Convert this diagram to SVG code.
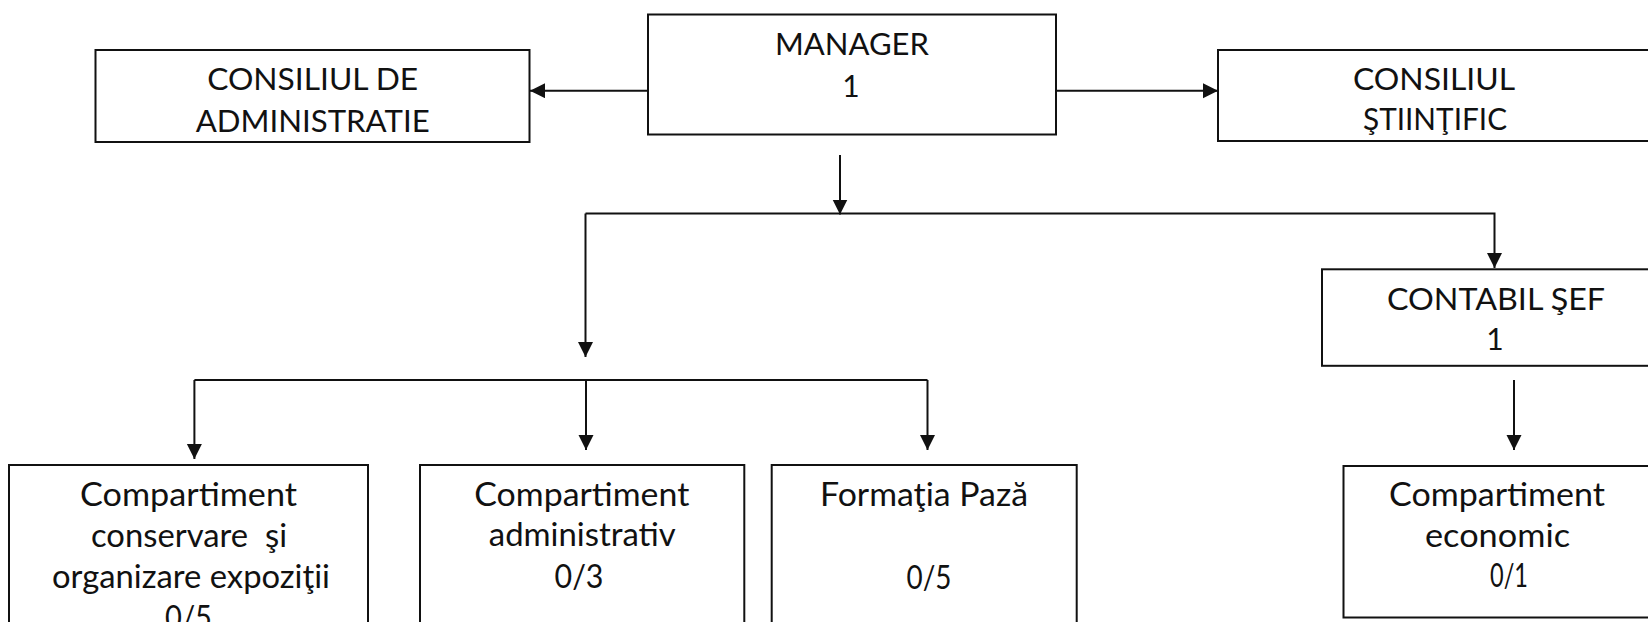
<svg xmlns="http://www.w3.org/2000/svg" width="1648" height="622" viewBox="0 0 1648 622">
<style>
.box{fill:#fff;stroke:#111;stroke-width:2}
.t{font-family:Lato,"Liberation Sans",sans-serif;font-weight:400;fill:#111;text-anchor:middle}
.up{font-size:30px}
.lo{font-size:32px}
.ln{fill:none;stroke:#111;stroke-width:2;marker-end:url(#ah)}
.ln0{fill:none;stroke:#111;stroke-width:2}
</style>
<defs>
<marker id="ah" markerUnits="userSpaceOnUse" markerWidth="16" markerHeight="16" refX="15" refY="7.5" orient="auto">
<path d="M0,0 L15,7.5 L0,15 Z" fill="#111"/>
</marker>
</defs>
<rect width="1648" height="622" fill="#fff"/>
<g id="connectors">
<path class="ln" d="M648,90.7 H530"/>
<path class="ln" d="M1056,90.7 H1218"/>
<path class="ln" d="M840,155 V214.5"/>
<path class="ln" d="M585.5,213.5 H1494.5 V268"/>
<path class="ln" d="M585.5,213.5 V357"/>
<path class="ln0" d="M194.4,380 H927.5"/>
<path class="ln" d="M194.4,380 V459"/>
<path class="ln" d="M586,380 V450"/>
<path class="ln" d="M927.5,380 V450"/>
<path class="ln" d="M1514,380 V450"/>
</g>
<g id="consiliul-admin">
<rect class="box" x="95.5" y="50" width="434" height="92"/>
<text class="t up" x="312.7" y="90" textLength="211" lengthAdjust="spacingAndGlyphs">CONSILIUL DE</text>
<text class="t up" x="312.7" y="131.5" textLength="234" lengthAdjust="spacingAndGlyphs">ADMINISTRATIE</text>
</g>
<g id="manager">
<rect class="box" x="648" y="14.5" width="408" height="120"/>
<text class="t up" x="852" y="55" textLength="154" lengthAdjust="spacingAndGlyphs">MANAGER</text>
<text class="t up" x="851" y="97">1</text>
</g>
<g id="consiliul-stiintific">
<rect class="box" x="1218" y="50" width="434" height="91"/>
<text class="t up" x="1434" y="90" textLength="162" lengthAdjust="spacingAndGlyphs">CONSILIUL</text>
<text class="t up" x="1435" y="130" textLength="144" lengthAdjust="spacingAndGlyphs">ŞTIINŢIFIC</text>
</g>
<g id="contabil-sef">
<rect class="box" x="1322" y="269.3" width="348" height="96.5"/>
<text class="t up" x="1496" y="310" textLength="218" lengthAdjust="spacingAndGlyphs">CONTABIL ŞEF</text>
<text class="t up" x="1495" y="350">1</text>
</g>
<g id="comp-conservare">
<rect class="box" x="9" y="465" width="359" height="180"/>
<text class="t lo" x="188.5" y="506" textLength="217" lengthAdjust="spacingAndGlyphs">Compartiment</text>
<text class="t lo" x="189" y="546.5" xml:space="preserve" textLength="196" lengthAdjust="spacingAndGlyphs">conservare  şi</text>
<text class="t lo" x="191" y="587.5" textLength="278" lengthAdjust="spacingAndGlyphs">organizare expoziţii</text>
<text class="t lo" x="188.5" y="629" textLength="47" lengthAdjust="spacingAndGlyphs">0/5</text>
</g>
<g id="comp-administrativ">
<rect class="box" x="420" y="465" width="324.3" height="180"/>
<text class="t lo" x="581.8" y="506" textLength="215" lengthAdjust="spacingAndGlyphs">Compartiment</text>
<text class="t lo" x="582.3" y="546" textLength="187" lengthAdjust="spacingAndGlyphs">administrativ</text>
<text class="t lo" x="579" y="588.3" textLength="49" lengthAdjust="spacingAndGlyphs">0/3</text>
</g>
<g id="formatia-paza">
<rect class="box" x="771.7" y="465" width="305" height="180"/>
<text class="t lo" x="924" y="506" textLength="208" lengthAdjust="spacingAndGlyphs">Formaţia Pază</text>
<text class="t lo" x="929" y="589" textLength="45" lengthAdjust="spacingAndGlyphs">0/5</text>
</g>
<g id="comp-economic">
<rect class="box" x="1343.5" y="466" width="320" height="151.5"/>
<text class="t lo" x="1497" y="506" textLength="216" lengthAdjust="spacingAndGlyphs">Compartiment</text>
<text class="t lo" x="1497.5" y="546.5" textLength="145" lengthAdjust="spacingAndGlyphs">economic</text>
<text class="t lo" x="1509" y="587" textLength="38" lengthAdjust="spacingAndGlyphs">0/1</text>
</g>
</svg>
